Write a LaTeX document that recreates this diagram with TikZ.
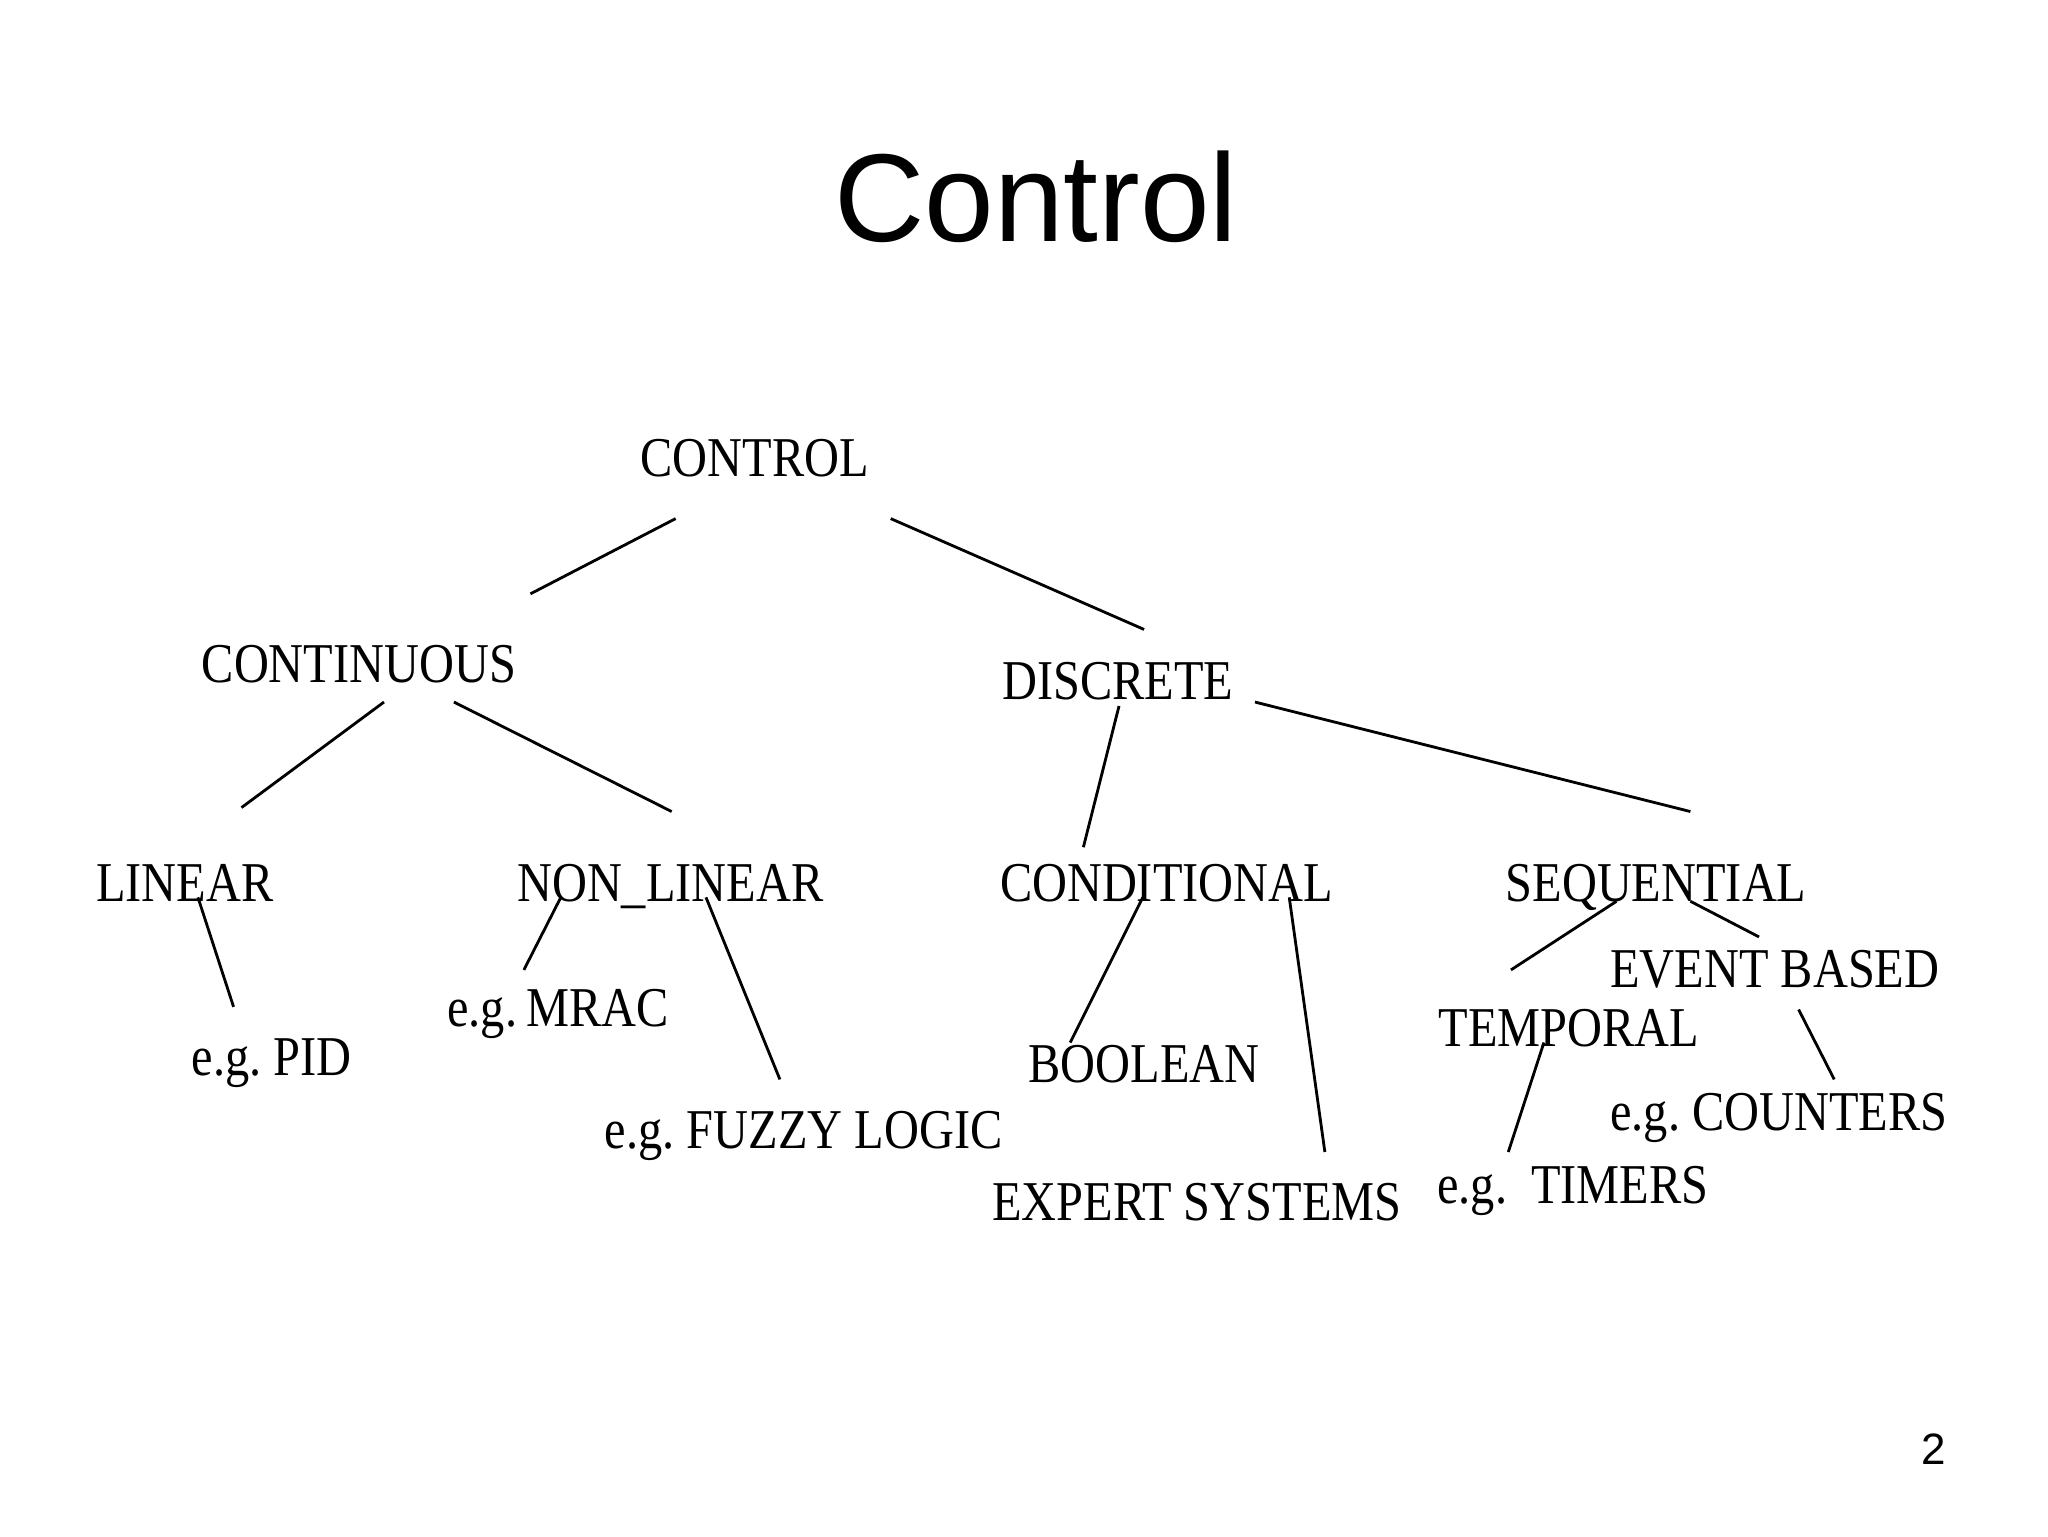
\documentclass[tikz,border=0pt]{standalone}
\usepackage{fontspec}
\setmainfont{Liberation Serif}
\newfontfamily\treefont[FakeStretch=0.86]{Liberation Serif}
\newfontfamily\titlefont{Liberation Sans}
\frenchspacing
\begin{document}
\begin{tikzpicture}[x=0.013196cm,y=-0.013196cm,
  lbl/.style={inner sep=0pt,anchor=base,font=\treefont\fontsize{16pt}{19pt}\selectfont},
  edge/.style={line width=0.8pt,black}]
\useasboundingbox[fill=white] (0,0) rectangle (1552,1164);
\node[inner sep=0pt,anchor=base,font=\titlefont\fontsize{35.6pt}{40pt}\selectfont] (title) at (785,183) {Control};
\node[inner sep=0pt,anchor=base,font=\titlefont\fontsize{12.5pt}{15pt}\selectfont] (page) at (1465,1110) {2};
\node[lbl] (control) at (572,361) {CONTROL};
\node[lbl] (continuous) at (272,517) {CONTINUOUS};
\node[lbl] (discrete) at (847,530) {DISCRETE};
\node[lbl] (linear) at (140,683) {LINEAR};
\node[lbl] (nonlinear) at (508,683) {NON\_LINEAR};
\node[lbl] (conditional) at (884,683) {CONDITIONAL};
\node[lbl] (sequential) at (1255,683) {SEQUENTIAL};
\node[lbl] (event) at (1345,748) {EVENT BASED};
\node[lbl] (temporal) at (1189,793) {TEMPORAL};
\node[lbl] (mrac) at (423,778) {e.g.\,MRAC};
\node[lbl] (pid) at (206,815) {e.g. PID};
\node[lbl] (boolean) at (867,820) {BOOLEAN};
\node[lbl] (fuzzy) at (609,870) {e.g. FUZZY LOGIC};
\node[lbl] (expert) at (907,925) {EXPERT SYSTEMS};
\node[lbl] (timers) at (1192,912) {e.g.\ \ TIMERS};
\node[lbl] (counters) at (1348,857) {e.g. COUNTERS};
\draw[edge] ([shift={(-60,32)}]control.base) -- ([shift={(130,-67)}]continuous.base);
\draw[edge] ([shift={(103,32)}]control.base) -- ([shift={(20,-53)}]discrete.base);
\draw[edge] ([shift={(19,15)}]continuous.base) -- ([shift={(43,-71)}]linear.base);
\draw[edge] ([shift={(72,15)}]continuous.base) -- ([shift={(1,-68)}]nonlinear.base);
\draw[edge] ([shift={(1,5)}]discrete.base) -- ([shift={(-63,-41)}]conditional.base);
\draw[edge] ([shift={(104,2)}]discrete.base) -- ([shift={(26,-68)}]sequential.base);
\draw[edge] ([shift={(10,-3)}]linear.base) -- ([shift={(-29,-52)}]pid.base);
\draw[edge] ([shift={(-83,-3)}]nonlinear.base) -- ([shift={(-26,-43)}]mrac.base);
\draw[edge] ([shift={(27,-3)}]nonlinear.base) -- ([shift={(-18,-52)}]fuzzy.base);
\draw[edge] ([shift={(-18,-3)}]conditional.base) -- ([shift={(-56,-30)}]boolean.base);
\draw[edge] ([shift={(93,-3)}]conditional.base) -- ([shift={(97,-52)}]expert.base);
\draw[edge] ([shift={(-30,0)}]sequential.base) -- ([shift={(-44,-58)}]temporal.base);
\draw[edge] ([shift={(26,0)}]sequential.base) -- ([shift={(-12,-38)}]event.base);
\draw[edge] ([shift={(-19,-3)}]temporal.base) -- ([shift={(-49,-39)}]timers.base);
\draw[edge] ([shift={(18,17)}]event.base) -- ([shift={(42,-39)}]counters.base);
\end{tikzpicture}
\end{document}
